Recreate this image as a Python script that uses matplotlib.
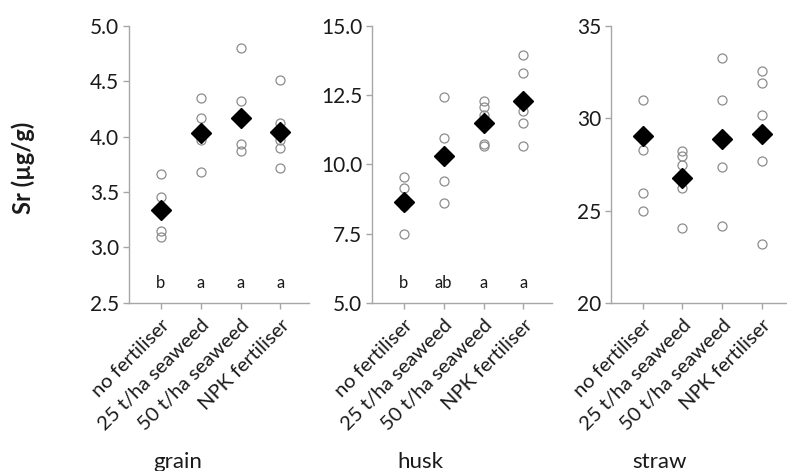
import matplotlib
matplotlib.use("Agg")
import matplotlib.pyplot as plt

plt.rcParams['font.family'] = ['Lato', 'DejaVu Sans']

treatments = ["no fertiliser", "25 t/ha seaweed", "50 t/ha seaweed", "NPK fertiliser"]
parts = ["grain", "husk", "straw"]

# replicate values per treatment (open circles)
grain_reps = [[3.66, 3.46, 3.15, 3.09],
              [4.35, 4.17, 3.97, 3.68],
              [4.80, 4.32, 3.93, 3.87],
              [4.51, 4.12, 3.97, 3.90, 3.72]]
husk_reps = [[9.56, 9.15, 8.50, 7.50],
             [12.43, 10.97, 10.18, 9.41, 8.60],
             [12.30, 12.08, 11.78, 11.48, 10.72, 10.67],
             [13.94, 13.29, 11.93, 11.48, 10.67]]
straw_reps = [[31.0, 28.3, 25.96, 25.0],
              [28.2, 27.95, 27.45, 26.2, 24.08],
              [33.25, 31.0, 27.34, 24.17],
              [32.58, 31.9, 30.17, 27.7, 23.2]]

# treatment means (black diamonds)
grain_means = [3.34, 4.03, 4.17, 4.04]
husk_means = [8.65, 10.32, 11.48, 12.29]
straw_means = [29.05, 26.78, 28.9, 29.13]

grain_letters = ["b", "a", "a", "a"]
husk_letters = ["b", "ab", "a", "a"]

ylims = [(2.5, 5.0), (5.0, 15.0), (20, 35)]
yticks = [[2.5, 3.0, 3.5, 4.0, 4.5, 5.0],
          [5.0, 7.5, 10.0, 12.5, 15.0],
          [20, 25, 30, 35]]
ytick_fmt = ["{:.1f}", "{:.1f}", "{:.0f}"]
letter_y = [2.68, 5.72, None]

all_reps = [grain_reps, husk_reps, straw_reps]
all_means = [grain_means, husk_means, straw_means]
all_letters = [grain_letters, husk_letters, None]

fig = plt.figure(figsize=(7.87, 4.71), dpi=100)
lefts = [0.164, 0.4727, 0.776]
spine_col = "#a6a6a6"
text_col = "#1a1a1a"

for i in range(3):
    ax = fig.add_axes([lefts[i], 0.357, 0.2287, 0.588])
    for j, reps in enumerate(all_reps[i]):
        ax.plot([j] * len(reps), reps, linestyle="none", marker="o", markersize=6.5,
                markerfacecolor="none", markeredgecolor="#8c8c8c", markeredgewidth=0.9,
                clip_on=False)
    ax.plot(range(4), all_means[i], linestyle="none", marker="D", markersize=10,
            color="black", zorder=5, clip_on=False)
    if all_letters[i] is not None:
        for j, lab in enumerate(all_letters[i]):
            ax.text(j, letter_y[i], lab, ha="center", va="center", fontsize=12,
                    color=text_col)
    ax.set_xlim(-0.8, 3.72)
    ax.set_ylim(*ylims[i])
    ax.set_yticks(yticks[i])
    ax.set_yticklabels([ytick_fmt[i].format(v) for v in yticks[i]], fontsize=15,
                       color=text_col)
    ax.set_xticks(range(4))
    ax.set_xticklabels(treatments, rotation=45, ha="right", rotation_mode="anchor",
                       fontsize=14.5, color=text_col)
    for s in ["top", "right"]:
        ax.spines[s].set_visible(False)
    for s in ["left", "bottom"]:
        ax.spines[s].set_color(spine_col)
        ax.spines[s].set_linewidth(1.0)
    ax.tick_params(axis="both", colors=spine_col, labelcolor=text_col, length=4,
                   width=1.0)
    ax.tick_params(axis="x", pad=6)
    ax.tick_params(axis="y", pad=3)
    ax.set_xlabel(parts[i], fontsize=16, color=text_col, labelpad=0)
    ax.xaxis.set_label_coords(0.27, -0.54)

fig.text(0.029, 0.643, "Sr (µg/g)", rotation=90, ha="center", va="center",
         fontsize=17, fontweight="bold", color=text_col)

fig.savefig("out.png", dpi=100)
